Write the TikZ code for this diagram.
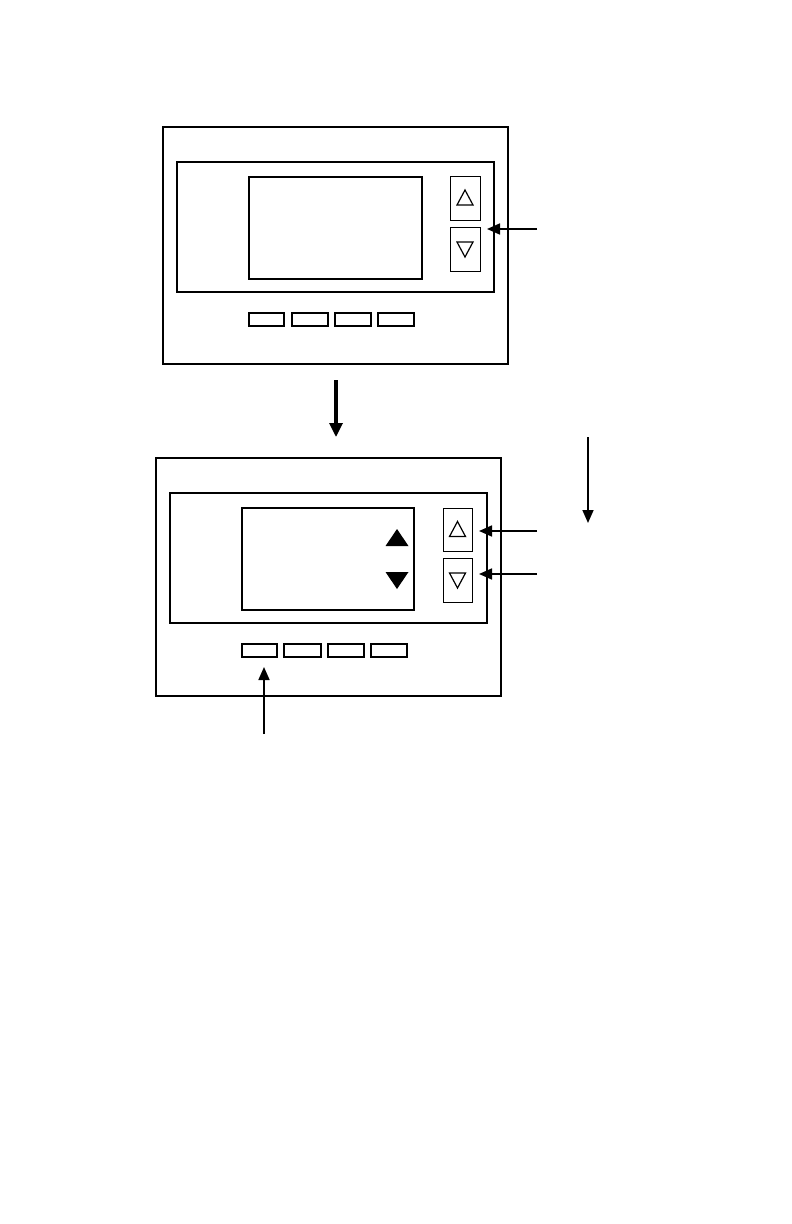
\documentclass[tikz,border=0pt]{standalone}
\usetikzlibrary{arrows.meta,calc}
\begin{document}
\begin{tikzpicture}[x=1bp,y=-1bp,
  box/.style={draw,rectangle,inner sep=0pt,outer sep=0pt},
  outerbox/.style={box,line width=2.2bp},
  panelbox/.style={box,line width=1.6bp},
  screenbox/.style={box,line width=2.2bp},
  btnbox/.style={box,line width=0.9bp},
  keybox/.style={box,line width=2bp},
  opentri/.style={line width=1.2bp},
  ptr/.style={line width=1.7bp,-{Triangle[length=13bp,width=11bp]}},
  bigptr/.style={line width=3.2bp,-{Triangle[length=14bp,width=13bp]}}]
\useasboundingbox (0,0) rectangle (792,1224);
\fill[white] (0,0) rectangle (792,1224);

% ---------- top device ----------
\node[outerbox,minimum width=345bp,minimum height=237bp] (o1) at (335.5,245.5) {};
\node[panelbox,minimum width=317bp,minimum height=130bp] (p1) at (335.5,227) {};
\node[screenbox,minimum width=173bp,minimum height=102bp] (s1) at (335.5,228) {};
\node[btnbox,minimum width=30bp,minimum height=44bp] (u1) at (465,198) {};
\node[btnbox,minimum width=30bp,minimum height=44bp] (d1) at (465,249) {};
\draw[opentri] ($(u1.center)+(-8,7)$) -- ($(u1.center)+(8,7)$) -- ($(u1.center)+(0,-8)$) -- cycle;
\draw[opentri] ($(d1.center)+(-8,-7)$) -- ($(d1.center)+(8,-7)$) -- ($(d1.center)+(0,8)$) -- cycle;
\node[keybox,minimum width=35bp,minimum height=13bp] (k11) at (266.5,319.5) {};
\node[keybox,minimum width=36bp,minimum height=13bp] (k12) at (310,319.5) {};
\node[keybox,minimum width=36bp,minimum height=13bp] (k13) at (353,319.5) {};
\node[keybox,minimum width=36bp,minimum height=13bp] (k14) at (396,319.5) {};

\coordinate (a1s) at (537,229);
\coordinate (a1e) at (487,229);
\draw[ptr] (a1s) -- (a1e);

% ---------- arrow between ----------
\coordinate (mids) at (336,380);
\coordinate (mide) at (336,437);
\draw[bigptr] (mids) -- (mide);

% ---------- right arrow ----------
\coordinate (rs) at (588,437);
\coordinate (re) at (588,523);
\draw[ptr] (rs) -- (re);

% ---------- bottom device ----------
\node[outerbox,minimum width=345bp,minimum height=238bp] (o2) at (328.5,577) {};
\node[panelbox,minimum width=317bp,minimum height=130bp] (p2) at (328.5,558) {};
\node[screenbox,line width=1.8bp,minimum width=172bp,minimum height=102bp] (s2) at (328,559) {};
\node[btnbox,minimum width=29bp,minimum height=43bp] (u2) at (457.5,529.5) {};
\node[btnbox,minimum width=29bp,minimum height=44bp] (d2) at (457.5,580) {};
\draw[opentri] ($(u2.center)+(-8,7)$) -- ($(u2.center)+(8,7)$) -- ($(u2.center)+(0,-8)$) -- cycle;
\draw[opentri] ($(d2.center)+(-8,-7)$) -- ($(d2.center)+(8,-7)$) -- ($(d2.center)+(0,8)$) -- cycle;
\fill ($(s2.north east)+(-17,30)$) coordinate (tu) ++(-11.5,8) -- ++(23,0) -- ++(-11.5,-17) -- cycle;
\fill ($(s2.north east)+(-17,72)$) coordinate (td) ++(-11.5,-8) -- ++(23,0) -- ++(-11.5,17) -- cycle;
\node[keybox,minimum width=35bp,minimum height=13bp] (k21) at (259.5,650.5) {};
\node[keybox,minimum width=37bp,minimum height=13bp] (k22) at (302.5,650.5) {};
\node[keybox,minimum width=36bp,minimum height=13bp] (k23) at (346,650.5) {};
\node[keybox,minimum width=36bp,minimum height=13bp] (k24) at (389,650.5) {};

\coordinate (b1s) at (537,531);
\coordinate (b1e) at (479,531);
\draw[ptr] (b1s) -- (b1e);
\coordinate (b2s) at (537,574);
\coordinate (b2e) at (479,574);
\draw[ptr] (b2s) -- (b2e);
\coordinate (b3s) at (264,734);
\coordinate (b3e) at (264,667);
\draw[ptr] (b3s) -- (b3e);
\end{tikzpicture}
\end{document}
